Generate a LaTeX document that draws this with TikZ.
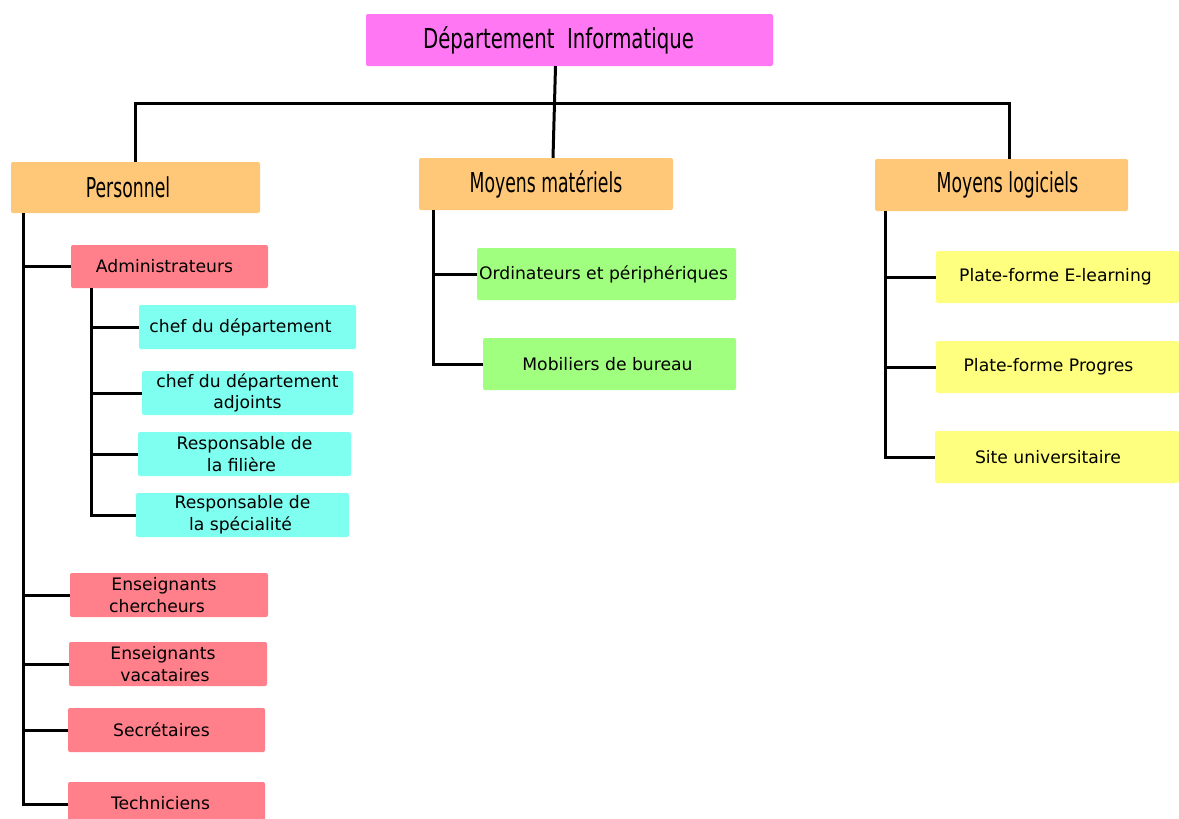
\documentclass[tikz,border=0pt]{standalone}
\usepackage{fontspec}
\setmainfont{DejaVu Sans}
\newfontfamily\hdfont[FakeStretch=0.63]{DejaVu Sans}
\newfontfamily\ttlfont[FakeStretch=0.72]{DejaVu Sans}
\definecolor{cTitle}{RGB}{255,119,242}
\definecolor{cHead}{RGB}{255,200,120}
\definecolor{cStaff}{RGB}{255,127,138}
\definecolor{cAdmin}{RGB}{127,255,239}
\definecolor{cHard}{RGB}{160,255,127}
\definecolor{cSoft}{RGB}{255,255,127}
\tikzset{
  box/.style={rectangle, rounded corners=2pt, inner sep=0pt, align=center,
    font=\fontsize{17.2}{21.5}\selectfont},
  titlebox/.style={box, fill=cTitle, font=\ttlfont\fontsize{27.4}{30}\selectfont},
  headbox/.style={box, fill=cHead, font=\hdfont\fontsize{27.4}{30}\selectfont},
  staffbox/.style={box, fill=cStaff},
  adminbox/.style={box, fill=cAdmin},
  hardbox/.style={box, fill=cHard},
  softbox/.style={box, fill=cSoft},
  link/.style={draw=black, line width=3pt},
}
\begin{document}
\begin{tikzpicture}[x=1pt, y=-1pt]
\clip (0,0) rectangle (1179,819);
\fill[white] (0,0) rectangle (1179,819);

% root and the three main branches
\node[titlebox, minimum width=407pt, minimum height=52pt] (top) at (569.5,40) {Département~~Informatique\hspace*{22pt}};
\node[headbox, minimum width=249pt, minimum height=51pt] (per) at (135.5,187.5) {Personnel\hspace*{15pt}};
\node[headbox, minimum width=254pt, minimum height=52pt] (mat) at (546,184) {Moyens matériels};
\node[headbox, minimum width=253pt, minimum height=52pt] (log) at (1001.5,185) {\hspace*{12pt}Moyens logiciels};

% staff
\node[staffbox, minimum width=197pt, minimum height=43pt] (adm) at (169.5,266.5) {\raisebox{-2pt}{Administrateurs}\hspace*{10pt}};
\node[adminbox, minimum width=217pt, minimum height=44pt] (chef) at (247.5,327) {chef du département\hspace*{14pt}};
\node[adminbox, minimum width=211pt, minimum height=44pt] (adj) at (247.5,393) {chef du département\\adjoints};
\node[adminbox, minimum width=213pt, minimum height=44pt] (fil) at (244.5,454) {Responsable de\\la filière\hspace*{6pt}};
\node[adminbox, minimum width=213pt, minimum height=44pt] (spe) at (242.5,515) {Responsable de\\la spécialité\hspace*{4pt}};
\node[staffbox, minimum width=198pt, minimum height=44pt] (ench) at (169,595) {Enseignants\hspace*{10pt}\\chercheurs\hspace*{24pt}};
\node[staffbox, minimum width=198pt, minimum height=44pt] (enva) at (168,664) {Enseignants\hspace*{10pt}\\vacataires\hspace*{6pt}};
\node[staffbox, minimum width=197pt, minimum height=44pt] (sec) at (166.5,730) {Secrétaires\hspace*{10pt}};
\node[staffbox, minimum width=197pt, minimum height=44pt] (tech) at (166.5,804) {\raisebox{3pt}{Techniciens}\hspace*{12pt}};

% hardware
\node[hardbox, minimum width=259pt, minimum height=52pt] (ord) at (606.5,274) {Ordinateurs et périphériques\hspace*{6pt}};
\node[hardbox, minimum width=253pt, minimum height=52pt] (mob) at (609.5,364) {Mobiliers de bureau\hspace*{4pt}};

% software
\node[softbox, minimum width=243pt, minimum height=52pt] (pfe) at (1057.5,277) {Plate-forme E-learning\hspace*{4pt}};
\node[softbox, minimum width=243pt, minimum height=52pt] (pfp) at (1057.5,367) {Plate-forme Progres\hspace*{18pt}};
\node[softbox, minimum width=244pt, minimum height=52pt] (site) at (1057,457) {Site universitaire\hspace*{18pt}};

% root to main branches
\coordinate (rootdown) at ([xshift=-14pt]top.south);
\coordinate (matup) at ([xshift=7pt]mat.north);
\coordinate (logup) at ([xshift=7.5pt]log.north);
\draw[link] (rootdown) -- (matup);
\draw[link] (per.north) -- ++(0,-58) -| (logup);

% staff tree
\coordinate (pt) at ([xshift=13pt]per.south west);
\draw[link] (pt) |- (tech.west);
\foreach \n in {adm,ench,enva,sec}
  \draw[link] (\n.west) -- (\n.west -| pt);

% administrators tree
\coordinate (at) at ([xshift=21pt]adm.south west);
\draw[link] (at) |- (spe.west);
\foreach \n in {chef,adj,fil}
  \draw[link] (\n.west) -- (\n.west -| at);

% hardware tree
\coordinate (mt) at ([xshift=15pt]mat.south west);
\draw[link] (mt) |- (mob.west);
\draw[link] (ord.west) -- (ord.west -| mt);

% software tree
\coordinate (lt) at ([xshift=11pt]log.south west);
\draw[link] (lt) |- (site.west);
\foreach \n in {pfe,pfp}
  \draw[link] (\n.west) -- (\n.west -| lt);
\end{tikzpicture}
\end{document}
